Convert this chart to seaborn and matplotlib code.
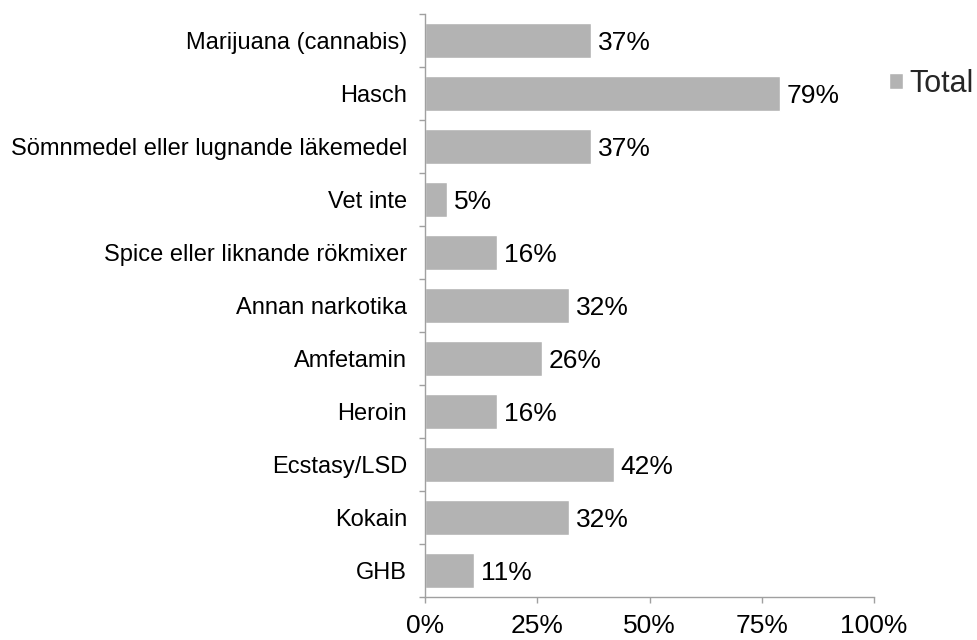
import numpy as np
import pandas as pd
import matplotlib.pyplot as plt
import seaborn as sns
from matplotlib.ticker import FixedLocator, PercentFormatter

# data
kategorier = ['Marijuana (cannabis)', 'Hasch', 'Sömnmedel eller lugnande läkemedel',
              'Vet inte', 'Spice eller liknande rökmixer', 'Annan narkotika',
              'Amfetamin', 'Heroin', 'Ecstasy/LSD', 'Kokain', 'GHB']
andel = [37, 79, 37, 5, 16, 32, 26, 16, 42, 32, 11]
serie = ['Total'] * len(kategorier)

df = pd.DataFrame({'kategori': kategorier, 'andel': andel, 'serie': serie})

sns.set_style('white')
plt.rcParams['font.family'] = ['Liberation Sans', 'DejaVu Sans']

fig = plt.figure(figsize=(9.78, 6.4), dpi=100)
ax = fig.add_axes([0.4346, 0.0672, 0.4591, 0.911])

sns.barplot(data=df, x='andel', y='kategori', hue='serie', palette=['#b3b3b3'],
            width=0.66, ax=ax, saturation=1)

# värdeetiketter
for c in ax.containers:
    texter = ax.bar_label(c, labels=[f'{v}%' for v in andel], padding=5,
                          fontsize=19, color='black')
    for t in texter:
        t.xyann = (5, -2)  # lite lägre, som i originalet

ax.set_xlim(0, 100)
ax.set_ylim(len(kategorier) - 0.5, -0.5)
ax.set_xticks([0, 25, 50, 75, 100])
ax.xaxis.set_major_formatter(PercentFormatter(decimals=0))
ax.set_xlabel('')
ax.set_ylabel('')

# axlar
for s in ['top', 'right']:
    ax.spines[s].set_visible(False)
for s in ['left', 'bottom']:
    ax.spines[s].set_color('#a0a0a0')
    ax.spines[s].set_linewidth(1)

ax.tick_params(axis='x', which='major', length=4, width=1, color='#a0a0a0',
               labelsize=19, pad=8, direction='out', bottom=True, labelcolor='black')
ax.tick_params(axis='y', which='major', length=0, labelsize=17, pad=13, labelcolor='black')
ax.yaxis.set_minor_locator(FixedLocator(np.arange(-0.5, len(kategorier), 1)))
ax.tick_params(axis='y', which='minor', length=4, width=1, color='#a0a0a0',
               direction='out', left=True)

leg = ax.legend(loc='center left', bbox_to_anchor=(1.033, 0.88), frameon=False,
                fontsize=22, handlelength=0.46, handleheight=0.46, handletextpad=0.2,
                borderaxespad=0, borderpad=0)

fig.savefig('out.png', dpi=100)
